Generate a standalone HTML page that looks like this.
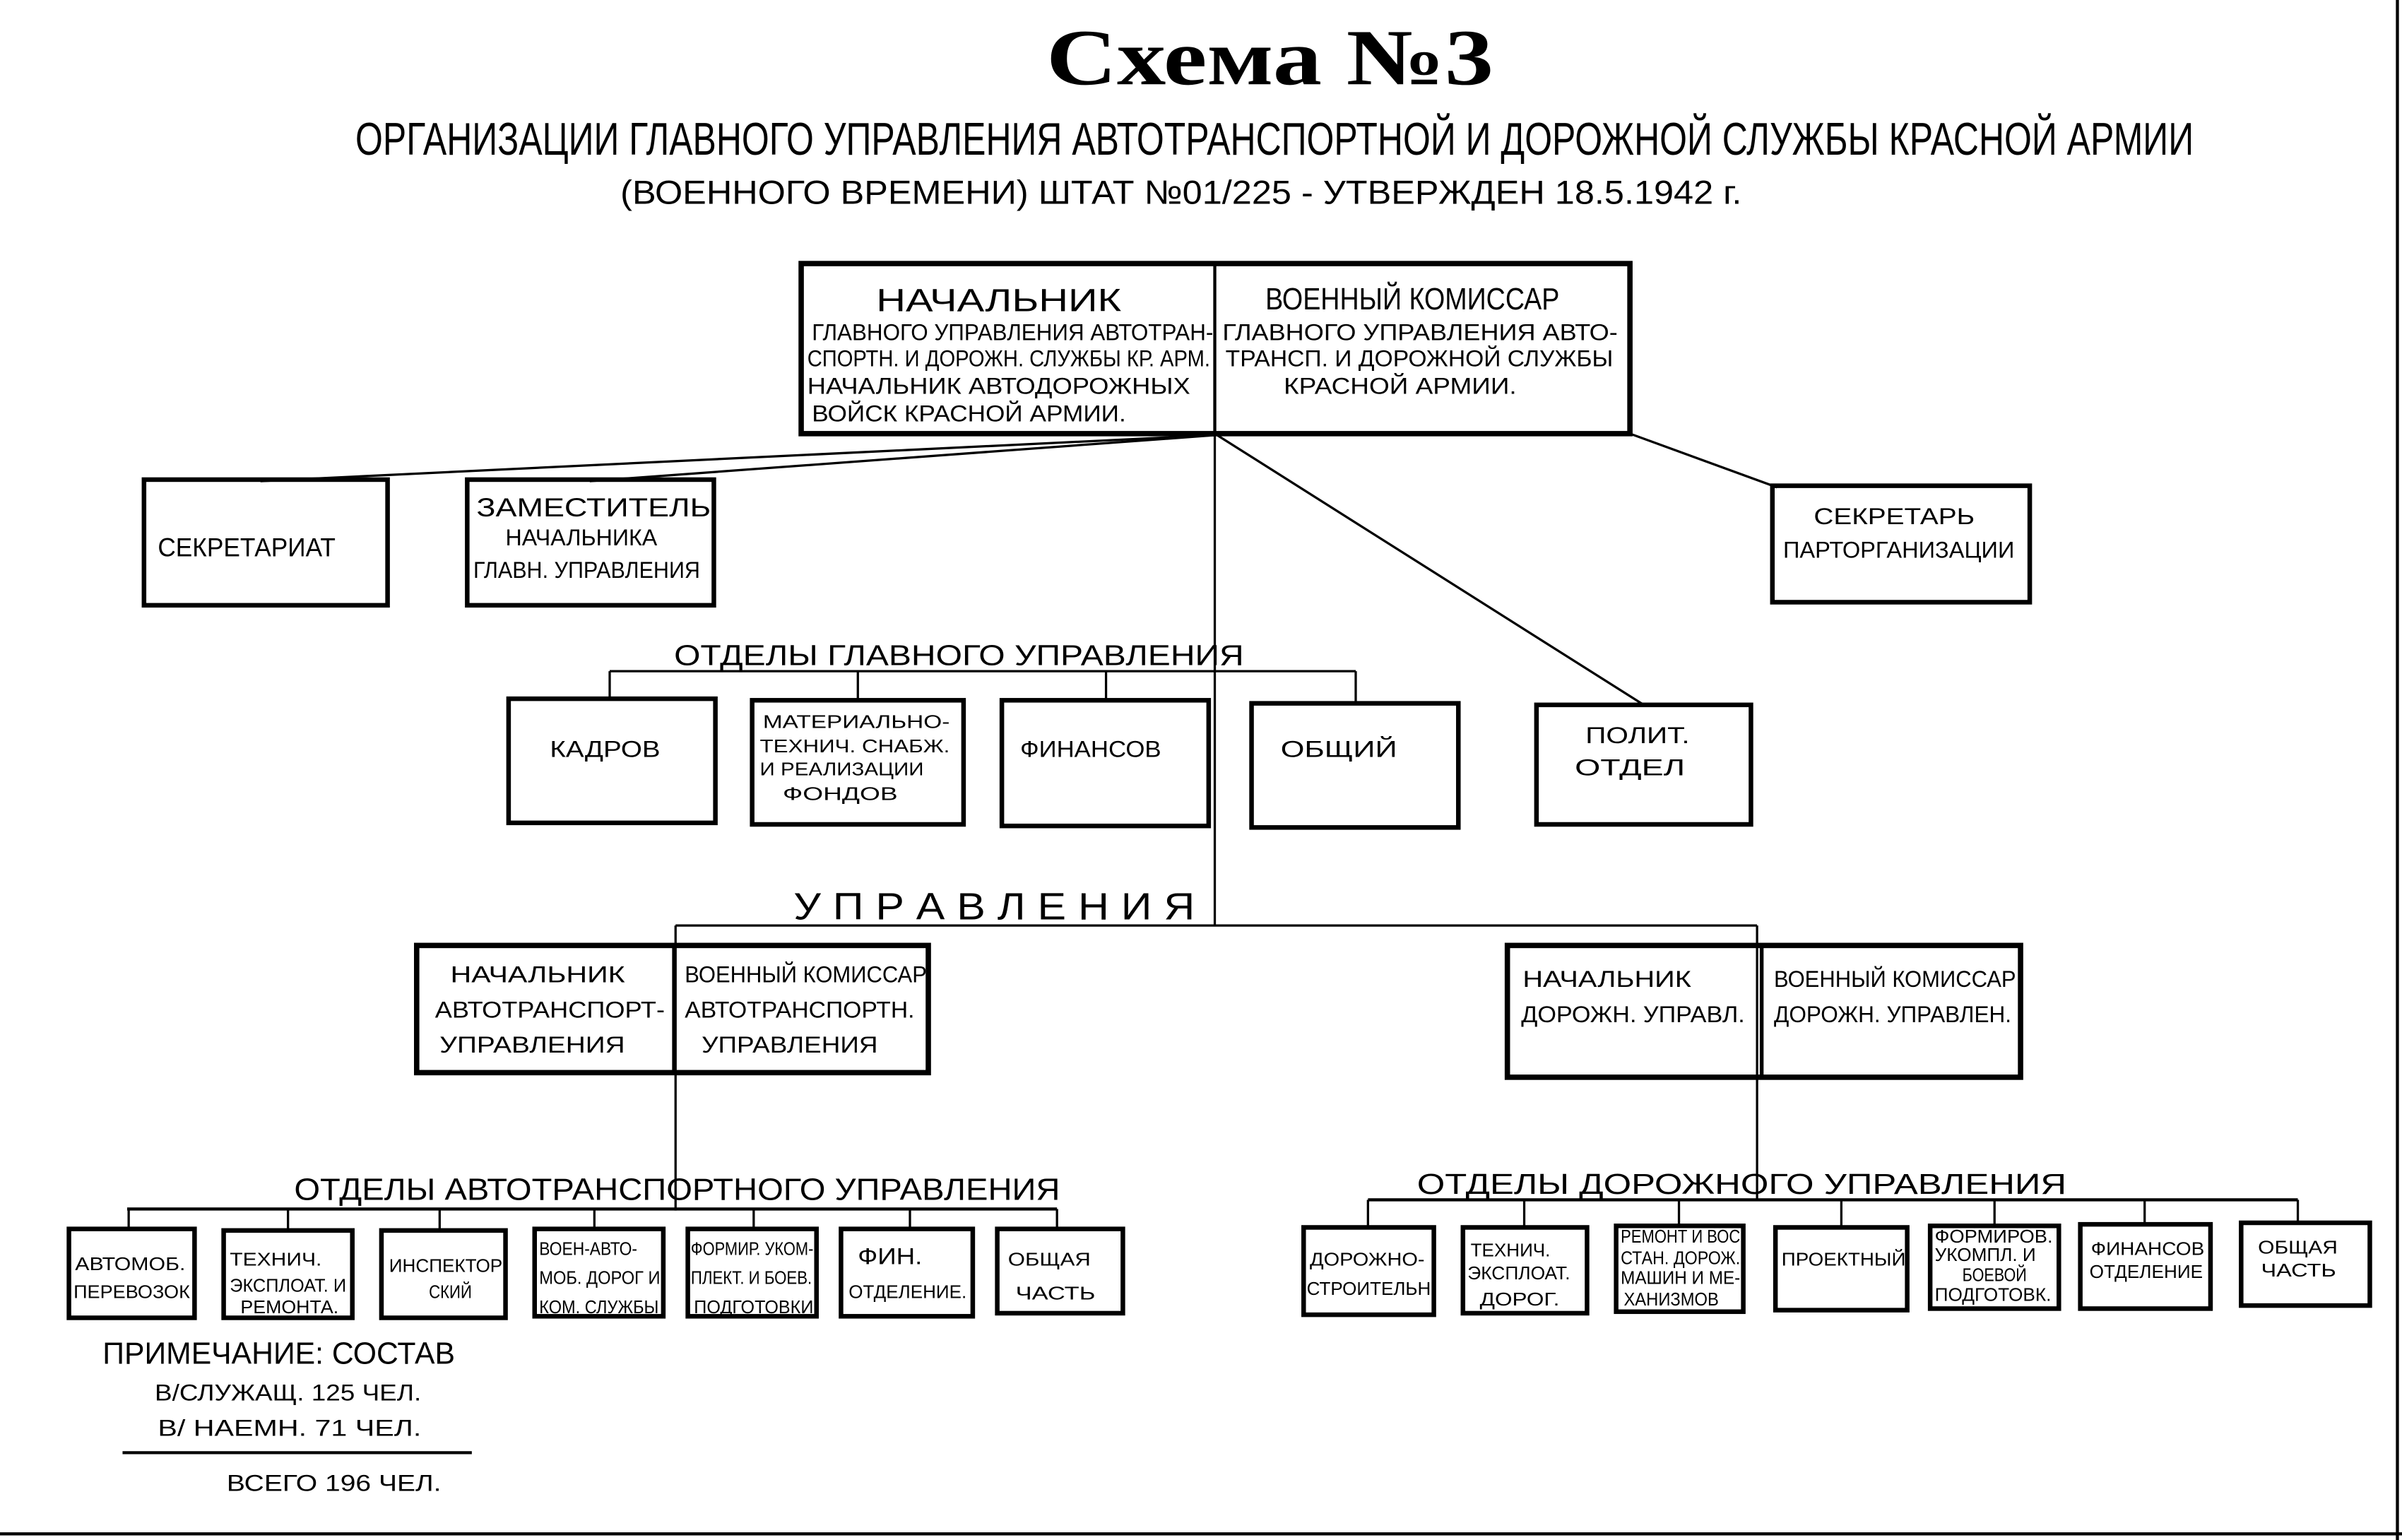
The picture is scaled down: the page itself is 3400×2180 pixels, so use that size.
<!DOCTYPE html>
<html><head><meta charset="utf-8"><style>
html,body{margin:0;padding:0;background:#fff;}
svg{display:block;}
text{font-family:"Liberation Sans Narrow","Liberation Sans","DejaVu Sans Condensed",sans-serif;fill:#000;}
.t{font-size:15px;}
.s{font-size:12px;}
</style></head><body>
<svg width="3400" height="2180" viewBox="0 0 1568 1005" preserveAspectRatio="none" xmlns="http://www.w3.org/2000/svg">
<rect x="0" y="0" width="1568" height="1005" fill="#fff"/>
<line x1="0" y1="1001" x2="1568" y2="1001" stroke="#000" stroke-width="2"/>
<line x1="1565" y1="0" x2="1565" y2="1005" stroke="#000" stroke-width="2"/>

<!-- Titles -->
<text x="683" y="55" textLength="292" lengthAdjust="spacingAndGlyphs" style="font-family:'Liberation Serif',serif;font-weight:bold;font-size:52px">Схема №3</text>
<text x="232" y="101" textLength="1200" lengthAdjust="spacingAndGlyphs" style="font-size:30px">ОРГАНИЗАЦИИ ГЛАВНОГО УПРАВЛЕНИЯ АВТОТРАНСПОРТНОЙ И ДОРОЖНОЙ СЛУЖБЫ КРАСНОЙ АРМИИ</text>
<text x="405" y="133" textLength="732" lengthAdjust="spacingAndGlyphs" style="font-size:22px">(ВОЕННОГО ВРЕМЕНИ) ШТАТ №01/225 - УТВЕРЖДЕН 18.5.1942 г.</text>

<g stroke="#000" fill="none">
<!-- top box -->
<rect x="523" y="172" width="541" height="111" stroke-width="3.5"/>
<line x1="793" y1="172" x2="793" y2="283" stroke-width="2"/>
<!-- connectors -->
<line x1="793" y1="284" x2="170" y2="314" stroke-width="1.5"/>
<line x1="793" y1="284" x2="385" y2="314" stroke-width="1.5"/>
<line x1="793" y1="283" x2="793" y2="604" stroke-width="1.5"/>
<line x1="793" y1="283" x2="1073" y2="460" stroke-width="1.5"/>
<line x1="1064" y1="283" x2="1160" y2="318" stroke-width="1.5"/>
<rect x="94" y="313" width="159" height="82" stroke-width="3"/>
<rect x="305" y="313" width="161" height="82" stroke-width="3"/>
<rect x="1157" y="317" width="168" height="76" stroke-width="3"/>
<!-- departments -->
<line x1="398" y1="438" x2="885" y2="438" stroke-width="1.5"/>
<line x1="398" y1="438" x2="398" y2="456" stroke-width="1.5"/>
<line x1="560" y1="438" x2="560" y2="457" stroke-width="1.5"/>
<line x1="722" y1="438" x2="722" y2="457" stroke-width="1.5"/>
<line x1="885" y1="438" x2="885" y2="459" stroke-width="1.5"/>
<rect x="332" y="456" width="135" height="81" stroke-width="3"/>
<rect x="491" y="457" width="138" height="81" stroke-width="3"/>
<rect x="654" y="457" width="135" height="82" stroke-width="3"/>
<rect x="817" y="459" width="135" height="81" stroke-width="3"/>
<rect x="1003" y="460" width="140" height="78" stroke-width="3"/>
<!-- upravleniya -->
<line x1="441" y1="604" x2="1147" y2="604" stroke-width="1.5"/>
<line x1="441" y1="604" x2="441" y2="790" stroke-width="1.5"/>
<line x1="1147" y1="604" x2="1147" y2="783" stroke-width="1.5"/>
<rect x="272" y="617" width="334" height="83" stroke-width="3.5"/>
<line x1="440" y1="617" x2="440" y2="700" stroke-width="2.5"/>
<rect x="984" y="617" width="335" height="86" stroke-width="3.5"/>
<line x1="1150" y1="617" x2="1150" y2="703" stroke-width="2.5"/>
<!-- left bottom -->
<line x1="83" y1="789" x2="690" y2="789" stroke-width="2"/>
<line x1="84" y1="789" x2="84" y2="802" stroke-width="1.5"/>
<line x1="188" y1="789" x2="188" y2="802" stroke-width="1.5"/>
<line x1="287" y1="789" x2="287" y2="802" stroke-width="1.5"/>
<line x1="388" y1="789" x2="388" y2="802" stroke-width="1.5"/>
<line x1="492" y1="789" x2="492" y2="802" stroke-width="1.5"/>
<line x1="594" y1="789" x2="594" y2="802" stroke-width="1.5"/>
<line x1="690" y1="789" x2="690" y2="802" stroke-width="1.5"/>
<rect x="45" y="802" width="82" height="58" stroke-width="3"/>
<rect x="146" y="803" width="84" height="57" stroke-width="3"/>
<rect x="249" y="803" width="81" height="57" stroke-width="3"/>
<rect x="349" y="802" width="84" height="57" stroke-width="3"/>
<rect x="449" y="802" width="84" height="57" stroke-width="3"/>
<rect x="549" y="802" width="86" height="57" stroke-width="3"/>
<rect x="651" y="802" width="82" height="55" stroke-width="3"/>
<!-- right bottom -->
<line x1="893" y1="783" x2="1500" y2="783" stroke-width="2"/>
<line x1="893" y1="783" x2="893" y2="800" stroke-width="1.5"/>
<line x1="995" y1="783" x2="995" y2="800" stroke-width="1.5"/>
<line x1="1096" y1="783" x2="1096" y2="800" stroke-width="1.5"/>
<line x1="1202" y1="783" x2="1202" y2="800" stroke-width="1.5"/>
<line x1="1302" y1="783" x2="1302" y2="800" stroke-width="1.5"/>
<line x1="1400" y1="783" x2="1400" y2="800" stroke-width="1.5"/>
<line x1="1500" y1="783" x2="1500" y2="798" stroke-width="1.5"/>
<rect x="851" y="801" width="85" height="57" stroke-width="3"/>
<rect x="955" y="801" width="81" height="56" stroke-width="3"/>
<rect x="1055" y="800" width="83" height="56" stroke-width="3"/>
<rect x="1159" y="801" width="86" height="54" stroke-width="3"/>
<rect x="1260" y="800" width="84" height="54" stroke-width="3"/>
<rect x="1358" y="799" width="85" height="55" stroke-width="3"/>
<rect x="1463" y="798" width="84" height="54" stroke-width="3"/>
<line x1="80" y1="948" x2="308" y2="948" stroke-width="2"/>
</g>

<!-- top box text -->
<text x="572" y="203" textLength="160" lengthAdjust="spacingAndGlyphs" style="font-size:21px">НАЧАЛЬНИК</text>
<text class="t" x="530" y="222" textLength="262" lengthAdjust="spacingAndGlyphs">ГЛАВНОГО УПРАВЛЕНИЯ АВТОТРАН-</text>
<text class="t" x="527" y="239" textLength="263" lengthAdjust="spacingAndGlyphs">СПОРТН. И ДОРОЖН. СЛУЖБЫ КР. АРМ.</text>
<text class="t" x="527" y="257" textLength="250" lengthAdjust="spacingAndGlyphs">НАЧАЛЬНИК АВТОДОРОЖНЫХ</text>
<text class="t" x="530" y="275" textLength="205" lengthAdjust="spacingAndGlyphs">ВОЙСК КРАСНОЙ АРМИИ.</text>
<text x="826" y="202" textLength="192" lengthAdjust="spacingAndGlyphs" style="font-size:20px">ВОЕННЫЙ КОМИССАР</text>
<text class="t" x="798" y="222" textLength="258" lengthAdjust="spacingAndGlyphs">ГЛАВНОГО УПРАВЛЕНИЯ АВТО-</text>
<text class="t" x="800" y="239" textLength="253" lengthAdjust="spacingAndGlyphs">ТРАНСП. И ДОРОЖНОЙ СЛУЖБЫ</text>
<text class="t" x="838" y="257" textLength="152" lengthAdjust="spacingAndGlyphs">КРАСНОЙ АРМИИ.</text>

<text x="103" y="363" textLength="116" lengthAdjust="spacingAndGlyphs" style="font-size:17px">СЕКРЕТАРИАТ</text>
<text x="311" y="337" textLength="153" lengthAdjust="spacingAndGlyphs" style="font-size:17px">ЗАМЕСТИТЕЛЬ</text>
<text class="t" x="330" y="356" textLength="99" lengthAdjust="spacingAndGlyphs">НАЧАЛЬНИКА</text>
<text class="t" x="309" y="377" textLength="148" lengthAdjust="spacingAndGlyphs">ГЛАВН. УПРАВЛЕНИЯ</text>
<text class="t" x="1184" y="342" textLength="105" lengthAdjust="spacingAndGlyphs">СЕКРЕТАРЬ</text>
<text class="t" x="1164" y="364" textLength="151" lengthAdjust="spacingAndGlyphs">ПАРТОРГАНИЗАЦИИ</text>

<text x="440" y="434" textLength="372" lengthAdjust="spacingAndGlyphs" style="font-size:19px">ОТДЕЛЫ   ГЛАВНОГО   УПРАВЛЕНИЯ</text>
<text class="t" x="359" y="494" textLength="72" lengthAdjust="spacingAndGlyphs">КАДРОВ</text>
<text class="s" x="498" y="475" textLength="122" lengthAdjust="spacingAndGlyphs">МАТЕРИАЛЬНО-</text>
<text class="s" x="496" y="491" textLength="124" lengthAdjust="spacingAndGlyphs">ТЕХНИЧ. СНАБЖ.</text>
<text class="s" x="496" y="506" textLength="107" lengthAdjust="spacingAndGlyphs">И РЕАЛИЗАЦИИ</text>
<text class="s" x="511" y="522" textLength="75" lengthAdjust="spacingAndGlyphs">ФОНДОВ</text>
<text class="t" x="666" y="494" textLength="92" lengthAdjust="spacingAndGlyphs">ФИНАНСОВ</text>
<text class="t" x="836" y="494" textLength="76" lengthAdjust="spacingAndGlyphs">ОБЩИЙ</text>
<text class="t" x="1035" y="485" textLength="68" lengthAdjust="spacingAndGlyphs">ПОЛИТ.</text>
<text class="t" x="1028" y="506" textLength="72" lengthAdjust="spacingAndGlyphs">ОТДЕЛ</text>

<text x="518" y="600" textLength="262" lengthAdjust="spacingAndGlyphs" style="font-size:25px">У П Р А В Л Е Н И Я</text>
<text class="t" x="294" y="641" textLength="114" lengthAdjust="spacingAndGlyphs">НАЧАЛЬНИК</text>
<text class="t" x="284" y="664" textLength="150" lengthAdjust="spacingAndGlyphs">АВТОТРАНСПОРТ-</text>
<text class="t" x="287" y="687" textLength="121" lengthAdjust="spacingAndGlyphs">УПРАВЛЕНИЯ</text>
<text class="t" x="447" y="641" textLength="158" lengthAdjust="spacingAndGlyphs">ВОЕННЫЙ КОМИССАР</text>
<text class="t" x="447" y="664" textLength="150" lengthAdjust="spacingAndGlyphs">АВТОТРАНСПОРТН.</text>
<text class="t" x="458" y="687" textLength="115" lengthAdjust="spacingAndGlyphs">УПРАВЛЕНИЯ</text>
<text class="t" x="994" y="644" textLength="110" lengthAdjust="spacingAndGlyphs">НАЧАЛЬНИК</text>
<text class="t" x="993" y="667" textLength="146" lengthAdjust="spacingAndGlyphs">ДОРОЖН. УПРАВЛ.</text>
<text class="t" x="1158" y="644" textLength="158" lengthAdjust="spacingAndGlyphs">ВОЕННЫЙ КОМИССАР</text>
<text class="t" x="1158" y="667" textLength="155" lengthAdjust="spacingAndGlyphs">ДОРОЖН. УПРАВЛЕН.</text>

<text x="192" y="783" textLength="500" lengthAdjust="spacingAndGlyphs" style="font-size:20px">ОТДЕЛЫ   АВТОТРАНСПОРТНОГО   УПРАВЛЕНИЯ</text>
<text class="s" x="49" y="829" textLength="72" lengthAdjust="spacingAndGlyphs">АВТОМОБ.</text>
<text class="s" x="48" y="847" textLength="76" lengthAdjust="spacingAndGlyphs">ПЕРЕВОЗОК</text>
<text class="s" x="150" y="826" textLength="60" lengthAdjust="spacingAndGlyphs">ТЕХНИЧ.</text>
<text class="s" x="150" y="843" textLength="76" lengthAdjust="spacingAndGlyphs">ЭКСПЛОАТ. И</text>
<text class="s" x="157" y="857" textLength="64" lengthAdjust="spacingAndGlyphs">РЕМОНТА.</text>
<text class="s" x="254" y="830" textLength="74" lengthAdjust="spacingAndGlyphs">ИНСПЕКТОР</text>
<text class="s" x="280" y="847" textLength="28" lengthAdjust="spacingAndGlyphs">СКИЙ</text>
<text class="s" x="352" y="819" textLength="64" lengthAdjust="spacingAndGlyphs">ВОЕН-АВТО-</text>
<text class="s" x="352" y="838" textLength="79" lengthAdjust="spacingAndGlyphs">МОБ. ДОРОГ И</text>
<text class="s" x="352" y="857" textLength="78" lengthAdjust="spacingAndGlyphs">КОМ. СЛУЖБЫ</text>
<text class="s" x="451" y="819" textLength="80" lengthAdjust="spacingAndGlyphs">ФОРМИР. УКОМ-</text>
<text class="s" x="451" y="838" textLength="79" lengthAdjust="spacingAndGlyphs">ПЛЕКТ. И БОЕВ.</text>
<text class="s" x="453" y="857" textLength="78" lengthAdjust="spacingAndGlyphs">ПОДГОТОВКИ</text>
<text class="t" x="560" y="825" textLength="42" lengthAdjust="spacingAndGlyphs">ФИН.</text>
<text class="s" x="554" y="847" textLength="77" lengthAdjust="spacingAndGlyphs">ОТДЕЛЕНИЕ.</text>
<text class="s" x="658" y="826" textLength="54" lengthAdjust="spacingAndGlyphs">ОБЩАЯ</text>
<text class="s" x="663" y="848" textLength="52" lengthAdjust="spacingAndGlyphs">ЧАСТЬ</text>

<text x="925" y="779" textLength="424" lengthAdjust="spacingAndGlyphs" style="font-size:19px">ОТДЕЛЫ   ДОРОЖНОГО   УПРАВЛЕНИЯ</text>
<text class="s" x="855" y="826" textLength="75" lengthAdjust="spacingAndGlyphs">ДОРОЖНО-</text>
<text class="s" x="853" y="845" textLength="81" lengthAdjust="spacingAndGlyphs">СТРОИТЕЛЬН</text>
<text class="s" x="960" y="820" textLength="52" lengthAdjust="spacingAndGlyphs">ТЕХНИЧ.</text>
<text class="s" x="958" y="835" textLength="67" lengthAdjust="spacingAndGlyphs">ЭКСПЛОАТ.</text>
<text class="s" x="966" y="852" textLength="52" lengthAdjust="spacingAndGlyphs">ДОРОГ.</text>
<text class="s" x="1058" y="811" textLength="78" lengthAdjust="spacingAndGlyphs">РЕМОНТ И ВОС</text>
<text class="s" x="1058" y="825" textLength="78" lengthAdjust="spacingAndGlyphs">СТАН. ДОРОЖ.</text>
<text class="s" x="1058" y="838" textLength="78" lengthAdjust="spacingAndGlyphs">МАШИН И МЕ-</text>
<text class="s" x="1060" y="852" textLength="62" lengthAdjust="spacingAndGlyphs">ХАНИЗМОВ</text>
<text class="s" x="1163" y="826" textLength="81" lengthAdjust="spacingAndGlyphs">ПРОЕКТНЫЙ</text>
<text class="s" x="1263" y="811" textLength="77" lengthAdjust="spacingAndGlyphs">ФОРМИРОВ.</text>
<text class="s" x="1263" y="823" textLength="66" lengthAdjust="spacingAndGlyphs">УКОМПЛ. И</text>
<text class="s" x="1281" y="836" textLength="42" lengthAdjust="spacingAndGlyphs">БОЕВОЙ</text>
<text class="s" x="1263" y="849" textLength="76" lengthAdjust="spacingAndGlyphs">ПОДГОТОВК.</text>
<text class="s" x="1365" y="819" textLength="74" lengthAdjust="spacingAndGlyphs">ФИНАНСОВ</text>
<text class="s" x="1364" y="834" textLength="74" lengthAdjust="spacingAndGlyphs">ОТДЕЛЕНИЕ</text>
<text class="s" x="1474" y="818" textLength="52" lengthAdjust="spacingAndGlyphs">ОБЩАЯ</text>
<text class="s" x="1476" y="833" textLength="49" lengthAdjust="spacingAndGlyphs">ЧАСТЬ</text>

<text x="67" y="890" textLength="230" lengthAdjust="spacingAndGlyphs" style="font-size:20px">ПРИМЕЧАНИЕ:  СОСТАВ</text>
<text class="t" x="101" y="914" textLength="174" lengthAdjust="spacingAndGlyphs">В/СЛУЖАЩ.   125 ЧЕЛ.</text>
<text class="t" x="103" y="937" textLength="172" lengthAdjust="spacingAndGlyphs">В/ НАЕМН.     71 ЧЕЛ.</text>
<text class="t" x="148" y="973" textLength="140" lengthAdjust="spacingAndGlyphs">ВСЕГО  196 ЧЕЛ.</text>
</svg>
</body></html>
